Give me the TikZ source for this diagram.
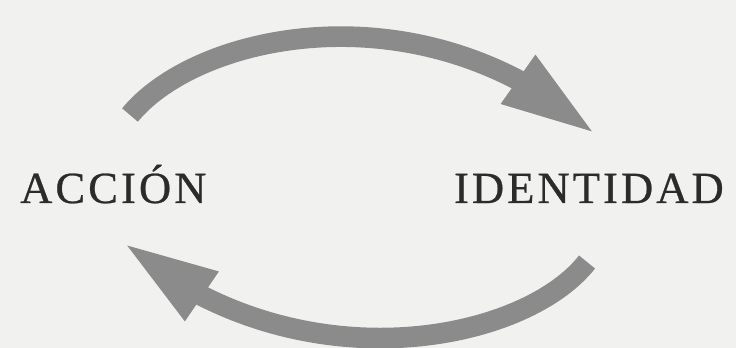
\documentclass[tikz,border=0pt]{standalone}
\usepackage{fontspec}
\usepackage{xcolor}
\usepackage{tikz}
\usetikzlibrary{arrows.meta, bending}
\newfontfamily\capfont[LetterSpace=7, FakeBold=0.6]{Liberation Serif}
\definecolor{papel}{HTML}{F1F1EF}
\definecolor{flecha}{HTML}{8B8B8B}
\definecolor{tinta}{HTML}{2B2B2B}
\tikzset{
  ciclo/.style={draw=flecha, line width=0.62cm,
    -{Triangle[length=2.9cm, width=1.6cm, flex]}},
  rotulo/.style={inner sep=0pt, text=tinta, font=\capfont\fontsize{38}{42}\selectfont}
}

\begin{document}
\begin{tikzpicture}[x=0.03cm, y=-0.03cm]
    % Fondo
    \fill[papel] (0,0) rectangle (736,348);
    \useasboundingbox (0,0) rectangle (736,348);

    % Rótulos
    \node[rotulo, anchor=base west] (accion) at (20,203) {ACCIÓN};
    \node[rotulo, anchor=base east] (identidad) at (724,203) {IDENTIDAD};

    % Extremos de las flechas
    \coordinate (colaA) at (130,115);
    \coordinate (puntaA) at (597,135);
    \coordinate (colaB) at (587,262);
    \coordinate (puntaB) at (122,242);

    % Flecha de arriba y flecha de abajo
    \draw[ciclo] (colaA) .. controls (200,30) and (430,-15) .. (puntaA);
    \draw[ciclo] (colaB) .. controls (522,345) and (290,388) .. (puntaB);
\end{tikzpicture}
\end{document}
